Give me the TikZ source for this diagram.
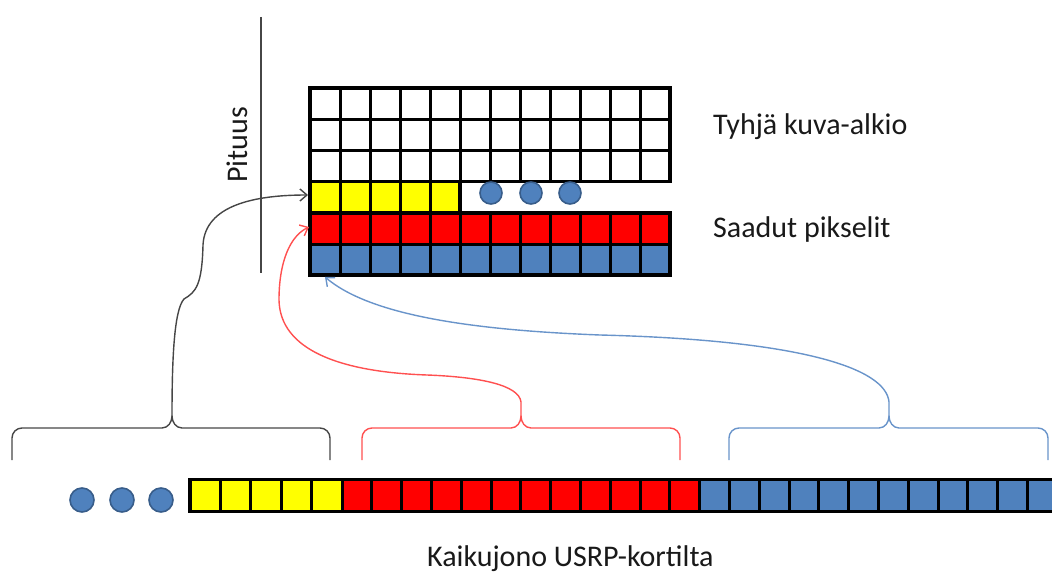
\documentclass[tikz,border=0pt]{standalone}
\usepackage{fontspec}
\setmainfont{Carlito}
\usetikzlibrary{arrows.meta}
\definecolor{cyel}{RGB}{255,255,0}
\definecolor{cred}{RGB}{255,0,0}
\definecolor{cblue}{RGB}{79,129,189}
\definecolor{cblueedge}{RGB}{56,93,138}
\definecolor{lred}{RGB}{255,80,80}
\definecolor{lblue}{RGB}{105,148,202}
\definecolor{lgray}{RGB}{70,70,70}
\begin{document}
\begin{tikzpicture}[x=1pt,y=-1pt,
  cell/.style={draw=black,line width=3pt},
  outline/.style={draw=black,line width=3.8pt,line join=miter},
  dot/.style={circle,fill=cblue,draw=cblueedge,line width=1.6pt,inner sep=0pt},
  conn/.style={line width=1.4pt},
  tip/.style={-{Straight Barb[length=7pt,width=12pt,line width=1.4pt]}},
  lbl/.style={font=\fontsize{30}{36}\selectfont,inner sep=0pt,text=black!90}]
\useasboundingbox (0,0) rectangle (1052,572);
\clip (0,0) rectangle (1052,572);
% ---- top grid ----
\foreach \r in {0,1,2}{
  \foreach \c in {0,...,11}{
    \filldraw[cell,fill=white] (310+30*\c,88+31.2*\r) rectangle ++(30,31.2);
  }}
\foreach \c in {0,...,4}{
  \filldraw[cell,fill=cyel] (310+30*\c,181.6) rectangle ++(30,31.2);}
\foreach \c in {0,...,11}{
  \filldraw[cell,fill=cred] (310+30*\c,212.8) rectangle ++(30,31.2);
  \filldraw[cell,fill=cblue] (310+30*\c,244) rectangle ++(30,31.2);}
\draw[outline] (310,88) rectangle (670,181.6);
\draw[outline] (310,181.6) rectangle (460,212.8);
\draw[outline] (310,212.8) rectangle (670,275.2);
\node[dot,minimum size=22pt] (d1) at (491,193) {};
\node[dot,minimum size=22pt] (d2) at (531,193) {};
\node[dot,minimum size=22pt] (d3) at (570,193) {};
% ---- bottom strip ----
\foreach \c in {0,...,4}{
  \filldraw[cell,fill=cyel] (190+30.4*\c,479.5) rectangle ++(30.4,32);}
\foreach \c in {0,...,11}{
  \filldraw[cell,fill=cred] (342+29.8*\c,479.5) rectangle ++(29.8,32);}
\foreach \c in {0,...,12}{
  \filldraw[cell,fill=cblue] (699.6+29.8*\c,479.5) rectangle ++(29.8,32);}
\draw[outline] (190,479.5) rectangle (1070,511.5);
\node[dot,minimum size=24pt] (e1) at (82,500) {};
\node[dot,minimum size=24pt] (e2) at (122,500) {};
\node[dot,minimum size=24pt] (e3) at (161,500) {};
% ---- axis line and labels ----
\coordinate (ltop) at (261,17);
\coordinate (lbot) at (261,273);
\draw[lgray,line width=1.6pt] (ltop) -- (lbot);
\node[lbl,rotate=90,anchor=base west] (pit) at (247,183) {Pituus};
\node[lbl,anchor=base west] (tyh) at (713,135) {Tyhjä kuva-alkio};
\node[lbl,anchor=base west] (saa) at (713,237) {Saadut pikselit};
\node[lbl,anchor=base west] (kai) at (427,566) {Kaikujono USRP-kortilta};
% ---- braces ----
\coordinate (bt) at (172,416);
\coordinate (rt) at (521,416);
\coordinate (ut) at (889,416);
\tikzset{brc/.style={conn,line join=round}}
\draw[lgray,brc] (12,460) -- (12,438) to[out=90,in=180] (22,428) -- (162,428) to[out=0,in=-90] (bt)
  to[out=-90,in=180] (182,428) -- (320,428) to[out=0,in=90] (330,438) -- (330,460);
\draw[lred,brc] (362,460) -- (362,438) to[out=90,in=180] (372,428) -- (511,428) to[out=0,in=-90] (rt)
  to[out=-90,in=180] (531,428) -- (670,428) to[out=0,in=90] (680,438) -- (680,460);
\draw[lblue,brc] (729,460) -- (729,438) to[out=90,in=180] (739,428) -- (879,428) to[out=0,in=-90] (ut)
  to[out=-90,in=180] (899,428) -- (1038,428) to[out=0,in=90] (1048,438) -- (1048,460);
% ---- arrows ----
\coordinate (yel) at (308,195);
\coordinate (red) at (309,227);
\coordinate (blu) at (325,277);
\draw[lgray,conn,tip] (bt) .. controls (172,360) and (174,310) .. (184,299)
  .. controls (196,292) and (202,285) .. (203,245)
  .. controls (205,205) and (255,195) .. (yel);
\draw[lred,conn,tip] (rt) -- (521,402) .. controls (519,385) and (480,377) .. (427,375)
  .. controls (340,372) and (280,350) .. (279,300)
  .. controls (279,262) and (290,236) .. (red);
\draw[lblue,conn,tip] (ut) -- (889,402) .. controls (886,368) and (800,340) .. (600,335)
  .. controls (470,330) and (370,315) .. (blu);
\end{tikzpicture}
\end{document}
